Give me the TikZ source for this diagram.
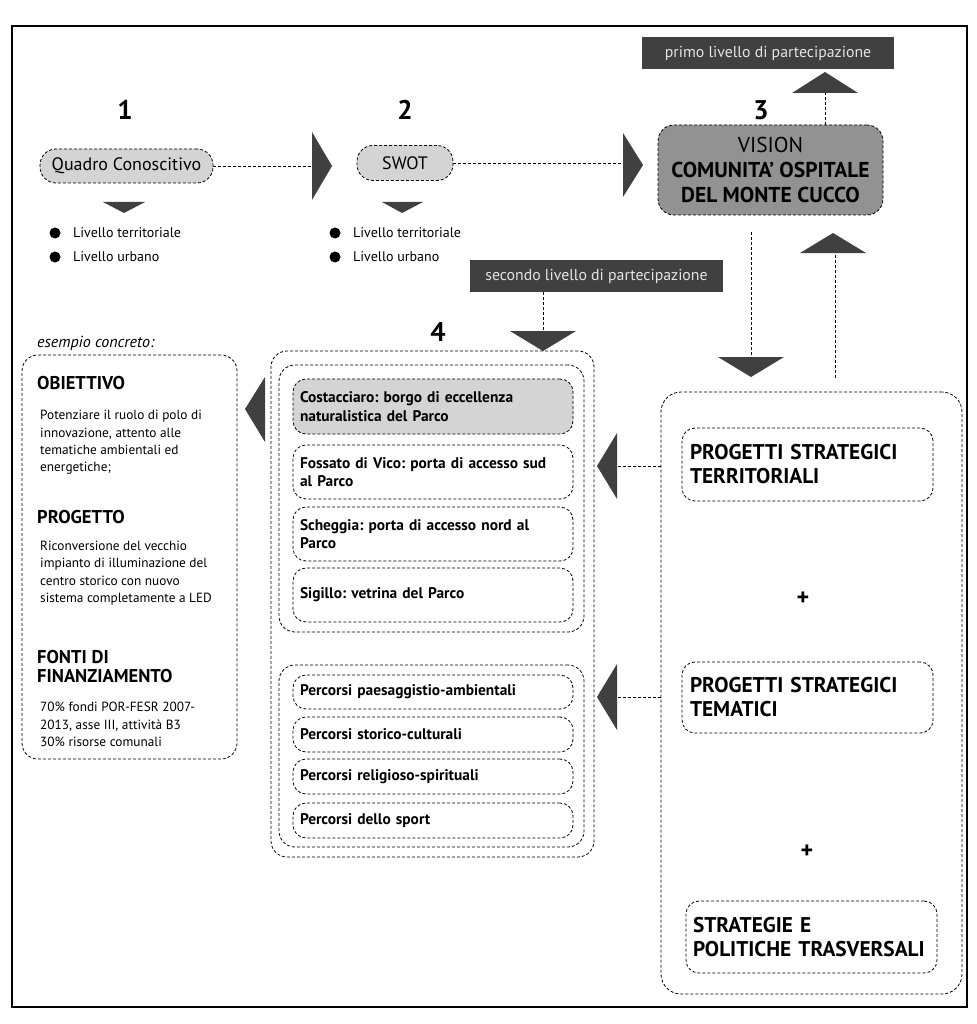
\documentclass[tikz,border=0pt]{standalone}
\usepackage{fontspec}
\setmainfont{PT Sans}
\usetikzlibrary{calc}
\frenchspacing
\definecolor{dk}{RGB}{64,64,64}
\definecolor{lt}{RGB}{212,212,212}
\definecolor{md}{RGB}{146,146,146}
\definecolor{lbl}{RGB}{228,228,228}
\tikzset{
  dsh/.style={dash pattern=on 3pt off 2pt, line width=0.8pt},
  bx/.style={draw=black, dsh, rounded corners=13pt, inner ysep=0pt, outer sep=0pt},
  grpbox/.style={bx, rounded corners=16pt, inner sep=0pt},
  itembox/.style={bx, align=left, inner xsep=7pt, text width=266pt, minimum height=#1,
     font=\fontsize{15.4}{18.5}\selectfont\bfseries},
  bigbox/.style={bx, align=left, inner xsep=8pt, text width=235pt, minimum height=#1,
     font=\fontsize{21.3}{24}\selectfont\bfseries},
  graybox/.style={bx, fill=lt, rounded corners=16pt, inner xsep=0pt,
     font=\fontsize{18}{18}\selectfont},
  darklabel/.style={fill=dk, text=lbl, inner sep=0pt, font=\fontsize{15.8}{18}\selectfont},
  numlabel/.style={font=\fontsize{27}{30}\selectfont\bfseries},
  bul/.style={circle, fill=black, inner sep=0pt, minimum size=11pt},
  bultext/.style={anchor=west, inner sep=0pt, font=\fontsize{14}{15}\selectfont},
  head/.style={anchor=west, inner sep=0pt, align=left, font=\fontsize{18.5}{19.5}\selectfont\bfseries},
  body/.style={anchor=west, inner sep=0pt, align=left, font=\fontsize{13.3}{17.3}\selectfont},
  plus/.style={font=\fontsize{24}{24}\selectfont\bfseries},
  tri/.style={fill=dk, draw=none}
}
\begin{document}
\begin{tikzpicture}[x=1pt,y=-1pt]
\useasboundingbox (0,0) rectangle (976,1024);
\fill[white] (0,0) rectangle (976,1024);
\draw[line width=2.2pt] (12,26) rectangle (967,1007);

% ---- step 1
\node[numlabel] (n1) at (125,110) {1};
\node[graybox, minimum width=173pt, minimum height=34pt] (quadro) at (126.5,166) {Quadro Conoscitivo};
\coordinate (t1b) at (312,166);
\draw[dsh] (quadro.east) -- (t1b);
\fill[tri] (312,132) -- (332,166) -- (312,200) -- cycle;
\fill[tri] (103,202) -- (145,202) -- (124,213) -- cycle;
\node[bul] (b1a) at (55,233) {};
\node[bul] (b1b) at (55,257) {};
\node[bultext] (l1a) at (73,233) {Livello territoriale};
\node[bultext] (l1b) at (73,257) {Livello urbano};

% ---- step 2
\node[numlabel] (n2) at (405,110) {2};
\node[graybox, minimum width=96pt, minimum height=35pt] (swot) at (405,163) {SWOT};
\coordinate (t2b) at (623,165);
\draw[dsh] (swot.east) -- (swot.east -| t2b);
\fill[tri] (623,133) -- (643,165) -- (623,197) -- cycle;
\fill[tri] (382,202) -- (423,202) -- (402,213) -- cycle;
\node[bul] (b2a) at (335,233) {};
\node[bul] (b2b) at (335,257) {};
\node[bultext] (l2a) at (353,233) {Livello territoriale};
\node[bultext] (l2b) at (353,257) {Livello urbano};

% ---- step 3
\node[numlabel] (n3) at (761,110) {3};
\node[graybox, fill=md, minimum width=225pt, minimum height=90pt, align=center,
      font=\fontsize{21.5}{25}\selectfont] (vision) at (770.5,170)
  {VISION\\ \textbf{COMUNITA’ OSPITALE}\\ \textbf{DEL MONTE CUCCO}};
\node[darklabel, minimum width=252pt, minimum height=32pt] (primo) at (768,53) {primo livello di partecipazione};
\coordinate (tub) at (825,93);
\fill[tri] (792,93) -- (858,93) -- (825,72) -- cycle;
\draw[dsh] (vision.north -| tub) -- (tub);

% vision -> right box
\coordinate (vd1) at (751,232);
\coordinate (vd2) at (751,357);
\draw[dsh] (vd1) -- (vd2);
\fill[tri] (718,357) -- (784,357) -- (751,377) -- cycle;
\coordinate (vu1) at (835,378);
\coordinate (vu2) at (835,253);
\draw[dsh] (vu1) -- (vu2);
\fill[tri] (800,253) -- (866,253) -- (833,233) -- cycle;

% ---- second level
\node[darklabel, minimum width=253pt, minimum height=32pt] (secondo) at (596.5,276) {secondo livello di partecipazione};
\coordinate (s4) at (543,331);
\draw[dsh] (secondo.south -| s4) -- (s4);
\fill[tri] (510,331) -- (576,331) -- (543,351) -- cycle;

% ---- step 4
\node[numlabel] (n4) at (438,332) {4};
\node[grpbox, minimum width=323pt, minimum height=506pt] (box4) at (432.5,604) {};
\node[grpbox, minimum width=305pt, minimum height=267pt] (grp1) at (431.5,498.5) {};
\node[itembox=55pt, fill=lt] (costa) at (433,406.5) {\mbox{Costacciaro: borgo di eccellenza}\\naturalistica del Parco};
\node[itembox=54pt] (fossato) at (433,472) {\mbox{Fossato di Vico: porta di accesso sud}\\al Parco};
\node[itembox=54pt] (scheggia) at (433,534) {\mbox{Scheggia: porta di accesso nord al}\\Parco};
\node[itembox=54pt] (sigillo) at (433,595) {Sigillo: vetrina del Parco};
\node[grpbox, minimum width=305pt, minimum height=182pt] (grp2) at (431.5,756) {};
\node[itembox=34pt] (paes) at (433,692) {\mbox{Percorsi paesaggistio-ambientali}};
\node[itembox=35pt] (stor) at (433,734.5) {Percorsi storico-culturali};
\node[itembox=35pt] (reli) at (433,776.5) {Percorsi religioso-spirituali};
\node[itembox=35pt] (sport) at (433,820.5) {Percorsi dello sport};

% ---- right box
\node[grpbox, rounded corners=20pt, minimum width=301pt, minimum height=602pt] (rbox) at (811.5,693) {};
\node[bigbox=73pt] (pst) at (807.5,464.5) {\mbox{PROGETTI STRATEGICI}\\TERRITORIALI};
\node[plus] (p1) at (803,599) {+};
\node[bigbox=71pt] (ptem) at (807.5,697.5) {\mbox{PROGETTI STRATEGICI}\\TEMATICI};
\node[plus] (p2) at (807,852) {+};
\node[bigbox=72pt, inner xsep=7pt, text width=237pt] (strat) at (811.5,937) {STRATEGIE E\\\mbox{POLITICHE TRASVERSALI}};

\coordinate (a1) at (617,466);
\draw[dsh] (rbox.west |- a1) -- (a1);
\fill[tri] (617,433) -- (617,499) -- (597,466) -- cycle;
\coordinate (a2) at (617,697);
\draw[dsh] (rbox.west |- a2) -- (a2);
\fill[tri] (617,664) -- (617,730) -- (597,697) -- cycle;

% ---- example box
\node[anchor=west, inner sep=0pt, font=\fontsize{16}{16}\selectfont\itshape] (esempio) at (37,343) {esempio concreto:};
\node[grpbox, minimum width=215pt, minimum height=404pt] (leftbox) at (129.5,557) {};
\fill[tri] (265,377) -- (265,442) -- (245,409) -- cycle;
\node[head] (hob) at (37,383) {OBIETTIVO};
\node[body] (tob) at (40,442.5) {Potenziare il ruolo di polo di\\innovazione, attento alle\\tematiche ambientali ed\\energetiche;};
\node[head] (hpr) at (37,517) {PROGETTO};
\node[body] (tpr) at (40,573) {Riconversione del vecchio\\impianto di illuminazione del\\centro storico con nuovo\\sistema completamente a LED};
\node[head] (hfo) at (37,666.5) {FONTI DI\\FINANZIAMENTO};
\node[body] (tfo) at (40,724.5) {70\% fondi POR-FESR 2007-\\2013, asse III, attività B3\\30\% risorse comunali};
\end{tikzpicture}
\end{document}
